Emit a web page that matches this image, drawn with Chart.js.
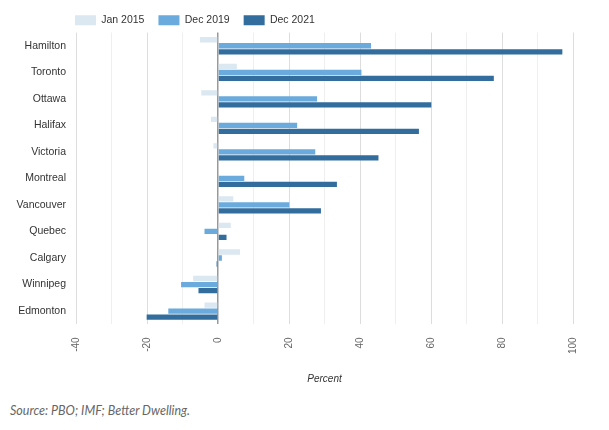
<!doctype html>
<html>
	<head>
		<title>House prices vs incomes</title>
		<script src="https://cdn.jsdelivr.net/npm/chart.js@4.4.0/dist/chart.umd.min.js"></script>
		<style>
			body {
				margin: 0;
				background: #fff;
			}
			#wrapper {
				position: relative;
				width: 609px;
				height: 430px;
			}
			#chart {
				position: absolute;
				left: 0;
				top: 0;
				width: 609px;
				height: 395px;
			}
			#source {
				position: absolute;
				left: 10px;
				top: 403px;
				margin: 0;
				font-family: Lato, sans-serif;
				font-style: italic;
				font-size: 12.5px;
				color: #666;
			}
		</style>
	</head>
	<body>
		<div id="wrapper">
			<div id="chart"><canvas id="canvas"></canvas></div>
			<p id="source">Source: PBO; IMF; Better Dwelling.</p>
		</div>

		<script>
			var cities = ['Hamilton', 'Toronto', 'Ottawa', 'Halifax', 'Victoria', 'Montreal',
				'Vancouver', 'Quebec', 'Calgary', 'Winnipeg', 'Edmonton'];
			var jan2015 = [-5.1, 5.3, -4.7, -2.0, -1.3, 0, 4.3, 3.6, 6.2, -7.0, -3.8];
			var dec2019 = [43.1, 40.4, 27.9, 22.3, 27.4, 7.4, 20.1, -3.8, 1.1, -10.4, -14.0];
			var dec2021 = [97.0, 77.7, 60.1, 56.6, 45.2, 33.5, 29.0, 2.4, -0.4, -5.5, -20.1];

			var font = 'Liberation Sans, Arial, sans-serif';

			// legend keeps wide gaps between items but sits closer to the plot,
			// and starts right at the plot's left edge
			var tightLegend = {
				id: 'tightLegend',
				beforeInit: function(chart) {
					var legend = chart.legend;
					if (!legend) return;
					var fit = legend.fit;
					legend.fit = function() {
						fit.apply(this, arguments);
						this.height -= 3;
					};
				},
				afterLayout: function(chart) {
					if (!chart.legend) return;
					chart.legend.left -= 15;
					chart.legend.right -= 15;
				}
			};

			window.onload = function() {
				var canvas = document.getElementById('canvas');
				new Chart(canvas.getContext('2d'), {
					type: 'bar',
					plugins: [tightLegend],
					data: {
						labels: cities,
						datasets: [
							{ label: 'Jan 2015', data: jan2015, backgroundColor: '#dbe7f1' },
							{ label: 'Dec 2019', data: dec2019, backgroundColor: '#6aaadc' },
							{ label: 'Dec 2021', data: dec2021, backgroundColor: '#336d9e' }
						]
					},
					options: {
						indexAxis: 'y',
						responsive: true,
						maintainAspectRatio: false,
						animation: false,
						categoryPercentage: 0.68,
						barPercentage: 0.88,
						layout: { padding: { top: 1, right: 36, bottom: 6, left: 0 } },
						plugins: {
							legend: {
								position: 'top',
								align: 'start',
								fullSize: false,
								labels: {
									boxWidth: 21,
									boxHeight: 10,
									padding: 14,
									color: '#333',
									font: { family: font, size: 10.5 }
								}
							},
							tooltip: { enabled: false }
						},
						scales: {
							x: {
								min: -40,
								max: 100,
								ticks: {
									stepSize: 10,
									autoSkip: false,
									minRotation: 90,
									maxRotation: 90,
									padding: 13,
									color: '#666',
									font: { family: font, size: 10 },
									callback: function(v) { return v % 20 === 0 ? v : ''; }
								},
								grid: {
									drawTicks: false,
									color: function(ctx) {
										if (!ctx.tick) return '#e6e6e6';
										if (ctx.tick.value === 0) return '#999';
										return ctx.tick.value % 20 === 0 ? '#dddddd' : '#efefef';
									},
									lineWidth: function(ctx) {
										return ctx.tick && ctx.tick.value === 0 ? 1.5 : 1;
									}
								},
								border: { display: false },
								title: {
									display: true,
									text: 'Percent',
									color: '#333',
									padding: { top: 6 },
									font: { family: font, size: 10, style: 'italic' }
								}
							},
							y: {
								grid: { display: false, drawTicks: false },
								border: { display: false },
								ticks: {
									padding: 10,
									color: '#333',
									font: { family: font, size: 10.5 }
								},
								afterFit: function(scale) { scale.width = 76; }
							}
						}
					}
				});
			};
		</script>
	</body>
</html>
